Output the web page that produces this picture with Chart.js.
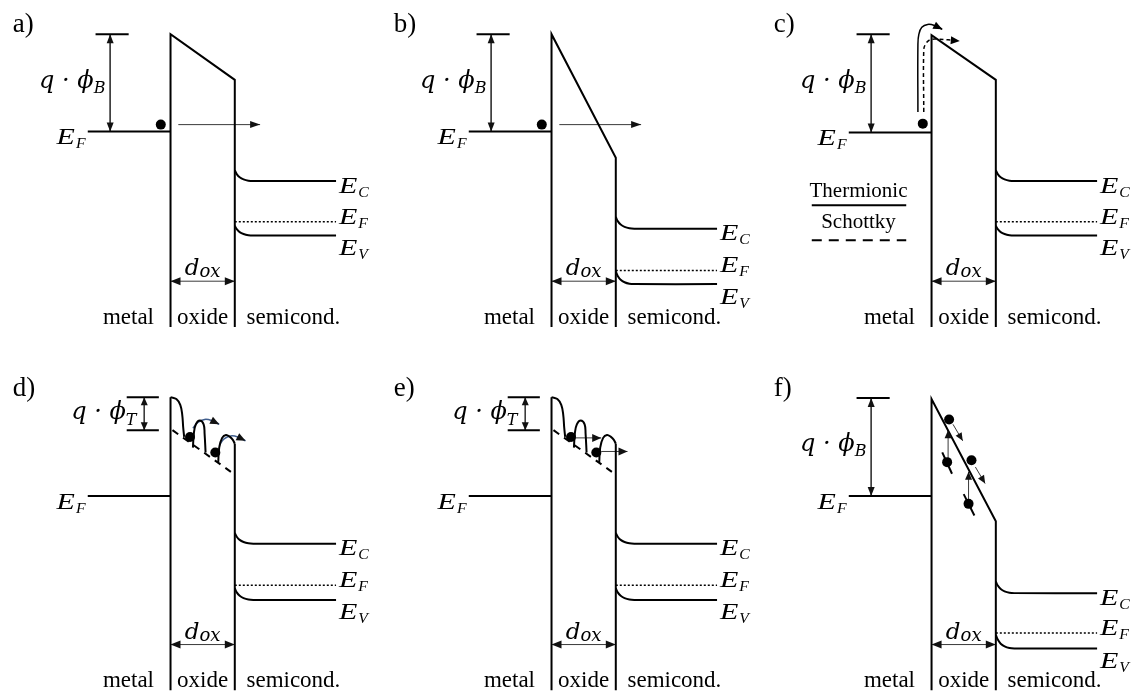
<!DOCTYPE html>
<html><head><meta charset="utf-8">
<script src="https://cdn.jsdelivr.net/npm/chart.js@4.4.1/dist/chart.umd.min.js"></script>
<style>
html,body{margin:0;padding:0;background:#fff;}
#wrap{position:relative;width:1143px;height:700px;overflow:hidden;background:#fff}
canvas{position:absolute;display:block}
</style></head><body><div id="wrap"></div>
<script>
// ---------------- DATA ----------------
const panelLetters = ['a)', 'b)', 'c)', 'd)', 'e)', 'f)'];
const regionNames  = ['metal', 'oxide', 'semicond.'];
const barrierSub   = ['B', 'B', 'B', 'T', 'T', 'B'];
// band energies per panel (diagram units, counted downward from panel top)
const oxideTopLeft  = [30, 30, 31, 29, 29, 31];
const oxideTopRight = [77, 157, 77, 77, 77, 157];
const metalFermi    = [130, 130, 131, 131, 131, 131];
const ecSurface     = [170, 218, 170, 169, 169, 219];
const ecBulk        = [181, 230, 181, 180, 180, 231];
const efSemi        = [223, 273, 223, 223, 223, 272];
const evSurface     = [227, 274, 227, 226, 226, 274];
const evBulk        = [237, 287, 237, 238, 238, 288];
const barrierRef    = [30, 30, 30, 29, 29, 30];
const trapDepth     = [63, 63];            // q·phi_T reference (panels d, e)
// band-bending profile near the oxide/semiconductor interface
const bendShape = [[0, 0], [2, 0.35], [5, 0.65], [9, 0.85], [14, 0.97], [19, 1]];
// panel a/b: tunnelling electron
const tunnelDot   = [[160, 123]];
const tunnelArrow = [[178, 123], [262, 123]];
// panel c: thermionic / Schottky emission
const thermoDot   = [[161, 122]];
const thermoPath  = [[156, 110], [156, 40], [157, 30], [160, 23], [166, 20], [173, 21], [181, 25]];
const schottkyPath= [[162, 110], [162, 46], [164, 40], [168, 36], [175, 35], [199, 37]];
// panels d/e: trap-assisted hopping / Poole-Frenkel profile
const wellEdge  = [[170, 29], [176, 31], [180, 37], [182, 47], [183, 60], [184, 70]];
const hump1     = [[193, 81], [194, 66], [196, 57], [200, 53], [204, 57], [205, 67], [206, 86]];
const hump2     = [[219, 96], [220, 81], [223, 71], [227, 68], [231, 70], [234, 73], [236, 77]];
const trapLine  = [[172, 63], [232, 106]];
const trapDots  = [[190, 70], [216, 86]];
const hopArrow1 = [[193, 61], [198, 55], [205, 52], [212, 53], [220, 57]];
const hopArrow2 = [[220, 79], [225, 72], [232, 69], [239, 70], [247, 74]];
const pfArrow1  = [[195, 71], [221, 71]];
const pfArrow2  = [[221, 85], [248, 85]];
// panel f: trap-assisted tunnelling
const tatDots   = [[188, 52], [186, 96], [211, 94], [208, 139]];
const tatDrift1 = [[192, 57], [202, 74]];
const tatDrift2 = [[215, 101], [225, 118]];
const tatLift1  = [[187, 95], [187, 63]];
const tatLift2  = [[208, 138], [208, 106]];
const tatTrap1  = [[181, 86], [191, 108]];
const tatTrap2  = [[203, 129], [214, 151]];

// ---------------- LAYOUT ----------------
const cols = [0, 381, 761], rows = [0, 364], widths = [380, 380, 382], heights = [364, 336];
const X_METAL = 85, X_OX1 = 170, X_OX2 = 236, X_SEMI = 340, Y_BOTTOM = 331, Y_DOX = 284;

function P(a) { return a.map(p => ({x: p[0], y: p[1]})); }
function line(pts, o) {
  return Object.assign({data: P(pts), showLine: true, pointRadius: 0, borderColor: '#000',
    borderWidth: 2, tension: 0, fill: false, borderCapStyle: 'butt'}, o || {});
}
function dots(pts, r) {
  return {data: P(pts), showLine: false, pointRadius: r || 5, pointBackgroundColor: '#000',
    pointBorderColor: '#000', pointBorderWidth: 0, borderColor: '#000'};
}
const THIN = {borderWidth: 1, borderColor: '#3a3a3a', arrowColor: '#111'};
function bend(s, b) {
  return bendShape.map(([dx, f]) => [X_OX2 + dx, s + (b - s) * f]).concat([[X_SEMI, b]]);
}

const EFONT = 'italic 24px "Liberation Serif"', ESUB = 'italic 15px "Liberation Serif"';
function eLabel(x, y, sub) {
  return {t: 'E', sub, x, y, font: EFONT, subFont: ESUB, sx: 1.25, ssx: 1.05, subDy: 4, gap: 1};
}

function build(i) {
  const ds = [], tx = [];
  const ef = metalFermi[i];
  const trap = (i === 3 || i === 4);
  ds.push(line([[X_METAL, ef], [X_OX1, ef]]));
  if (trap) {
    ds.push(line([[X_OX1, Y_BOTTOM], [X_OX1, oxideTopLeft[i]]]));
    ds.push(line(wellEdge, {tension: 0.4}));
    ds.push(line(hump1, {tension: 0.4}));
    ds.push(line(hump2, {tension: 0.4}));
    ds.push(line([[X_OX2, oxideTopRight[i]], [X_OX2, Y_BOTTOM]]));
    ds.push(line(trapLine, {borderDash: [7, 6]}));
  } else {
    ds.push(line([[X_OX1, Y_BOTTOM], [X_OX1, oxideTopLeft[i]], [X_OX2, oxideTopRight[i]], [X_OX2, Y_BOTTOM]]));
  }
  ds.push(line(bend(ecSurface[i], ecBulk[i]), {tension: 0.3}));
  ds.push(line([[X_OX2, efSemi[i]], [X_SEMI, efSemi[i]]], {borderWidth: 1.5, borderDash: [2, 2]}));
  ds.push(line(bend(evSurface[i], evBulk[i]), {tension: 0.3}));
  if (trap) {
    ds.push(line([[125, barrierRef[i]], [158, barrierRef[i]]]));
    ds.push(line([[125, trapDepth[i - 3]], [158, trapDepth[i - 3]]]));
    ds.push(line([[143, barrierRef[i]], [143, trapDepth[i - 3]]], Object.assign({arrow: 'both', aL: 8, aW: 3.5}, THIN)));
  } else {
    ds.push(line([[93, barrierRef[i]], [127, barrierRef[i]]]));
    ds.push(line([[108, barrierRef[i]], [108, ef]], Object.assign({arrow: 'both', aL: 9, aW: 3.5}, THIN)));
  }
  ds.push(line([[X_OX1, Y_DOX], [X_OX2, Y_DOX]], Object.assign({arrow: 'both', aL: 10, aW: 4}, THIN)));

  if (i === 0 || i === 1) {
    ds.push(dots(tunnelDot, 5));
    ds.push(line(tunnelArrow, Object.assign({arrow: 'end', aL: 10, aW: 3.5}, THIN)));
  }
  if (i === 2) {
    ds.push(dots(thermoDot, 5));
    ds.push(line(thermoPath, {borderWidth: 1.5, tension: 0.4, arrow: 'end', aL: 9, aW: 4}));
    ds.push(line(schottkyPath, {borderWidth: 1.5, tension: 0.4, borderDash: [4, 3], arrow: 'end', aL: 9, aW: 4}));
    ds.push(line([[47, 206], [144, 206]]));
    ds.push(line([[47, 242], [144, 242]], {borderDash: [10, 7]}));
    tx.push({t: 'Thermionic', x: 95, y: 197, align: 'center', font: '21px "Liberation Serif"'});
    tx.push({t: 'Schottky', x: 95, y: 229, align: 'center', font: '21px "Liberation Serif"'});
  }
  if (i === 3) {
    ds.push(line(hopArrow1, {borderWidth: 1.5, borderColor: '#3f5d8c', tension: 0.4, arrow: 'end', arrowColor: '#111', aL: 9, aW: 4}));
    ds.push(line(hopArrow2, {borderWidth: 1.5, borderColor: '#3f5d8c', tension: 0.4, arrow: 'end', arrowColor: '#111', aL: 9, aW: 4}));
    ds.push(dots(trapDots, 5));
  }
  if (i === 4) {
    ds.push(dots(trapDots, 5));
    ds.push(line(pfArrow1, Object.assign({arrow: 'end', aL: 9, aW: 4}, THIN)));
    ds.push(line(pfArrow2, Object.assign({arrow: 'end', aL: 9, aW: 4}, THIN)));
  }
  if (i === 5) {
    ds.push(line(tatTrap1));
    ds.push(line(tatTrap2));
    ds.push(dots(tatDots, 5));
    [tatDrift1, tatDrift2].forEach(a => ds.push(line(a, Object.assign({arrow: 'end', aL: 8, aW: 3.5}, THIN))));
    [tatLift1, tatLift2].forEach(a => ds.push(line(a, Object.assign({arrow: 'end', aL: 8, aW: 3.5}, THIN))));
  }

  tx.push({t: panelLetters[i], x: 8, y: 28, font: '27px "Liberation Serif"'});
  if (trap) {
    tx.push({t: 'q · ϕ', sub: barrierSub[i], x: 68, y: 52, font: 'italic 24px "DejaVu Serif"', subFont: 'italic 16px "DejaVu Serif"', subDy: 6});
  } else {
    tx.push({t: 'q · ϕ', sub: barrierSub[i], x: 35, y: 85, font: 'italic 24px "DejaVu Serif"', subFont: 'italic 16px "DejaVu Serif"', subDy: 5});
  }
  tx.push(eLabel(53, ef + 13, 'F'));
  tx.push(eLabel(343, ecBulk[i] + 12, 'C'));
  tx.push(eLabel(343, efSemi[i] + 2, 'F'));
  tx.push(eLabel(343, evBulk[i] + 20, 'V'));
  tx.push({t: 'd', sub: 'ox', x: 203, y: 278, align: 'center', font: 'italic 23px "DejaVu Serif"', subFont: 'italic 18px "DejaVu Serif"', subDy: 2});
  tx.push({t: regionNames[0], x: 153, y: 328, align: 'right', font: '23px "Liberation Serif"'});
  tx.push({t: regionNames[1], x: 203, y: 328, align: 'center', font: '23px "Liberation Serif"'});
  tx.push({t: regionNames[2], x: 248, y: 328, font: '23px "Liberation Serif"'});
  return {ds, tx};
}

function annot(texts) {
  return {
    id: 'annot',
    afterDraw(chart) {
      const ctx = chart.ctx, xs = chart.scales.x, ys = chart.scales.y;
      const X = v => xs.getPixelForValue(v), Y = v => ys.getPixelForValue(v);
      chart.data.datasets.forEach(ds => {
        if (!ds.arrow) return;
        const d = ds.data, n = d.length;
        const head = (p, q) => {
          const px = X(p.x), py = Y(p.y), qx = X(q.x), qy = Y(q.y);
          const a = Math.atan2(py - qy, px - qx), L = ds.aL || 9, W = ds.aW || 3.5;
          const c = Math.cos(a), s = Math.sin(a);
          ctx.save();
          ctx.fillStyle = ds.arrowColor || ds.borderColor;
          ctx.beginPath();
          ctx.moveTo(px, py);
          ctx.lineTo(px - L * c + W * s, py - L * s - W * c);
          ctx.lineTo(px - L * c - W * s, py - L * s + W * c);
          ctx.closePath(); ctx.fill(); ctx.restore();
        };
        if (ds.arrow === 'end' || ds.arrow === 'both') head(d[n - 1], d[n - 2]);
        if (ds.arrow === 'start' || ds.arrow === 'both') head(d[0], d[1]);
      });
      texts.forEach(t => {
        ctx.save();
        ctx.fillStyle = '#000';
        ctx.textBaseline = 'alphabetic';
        ctx.textAlign = 'left';
        ctx.font = t.font;
        const sx = t.sx || 1, ssx = t.ssx || 1;
        const w = ctx.measureText(t.t).width * sx;
        let sw = 0;
        if (t.sub) { ctx.font = t.subFont; sw = ctx.measureText(t.sub).width * ssx; }
        const total = w + sw + (t.sub ? (t.gap || 0) : 0);
        let x = X(t.x); const y = Y(t.y);
        if (t.align === 'center') x -= total / 2; else if (t.align === 'right') x -= total;
        ctx.font = t.font;
        ctx.translate(x, y); ctx.scale(sx, 1); ctx.fillText(t.t, 0, 0);
        ctx.restore();
        if (t.sub) {
          ctx.save();
          ctx.fillStyle = '#000';
          ctx.font = t.subFont;
          ctx.textBaseline = 'alphabetic';
          ctx.translate(x + w + (t.gap || 0), y + (t.subDy || 0));
          ctx.scale(ssx, 1);
          ctx.fillText(t.sub, 0, 0);
          ctx.restore();
        }
      });
    }
  };
}

const wrap = document.getElementById('wrap');
for (let i = 0; i < 6; i++) {
  const col = i % 3, row = Math.floor(i / 3);
  const c = document.createElement('canvas');
  c.width = widths[col]; c.height = heights[row];
  c.style.left = cols[col] + 'px'; c.style.top = rows[row] + 'px';
  c.style.width = widths[col] + 'px'; c.style.height = heights[row] + 'px';
  wrap.appendChild(c);
  const spec = build(i);
  new Chart(c, {
    type: 'scatter',
    data: {datasets: spec.ds},
    options: {
      responsive: false, animation: false, devicePixelRatio: 1, events: [],
      layout: {padding: 0},
      plugins: {legend: {display: false}, tooltip: {enabled: false}},
      scales: {
        x: {type: 'linear', min: 0, max: widths[col], display: false},
        y: {type: 'linear', min: 0, max: heights[row], reverse: true, display: false}
      }
    },
    plugins: [annot(spec.tx)]
  });
}
</script></body></html>
